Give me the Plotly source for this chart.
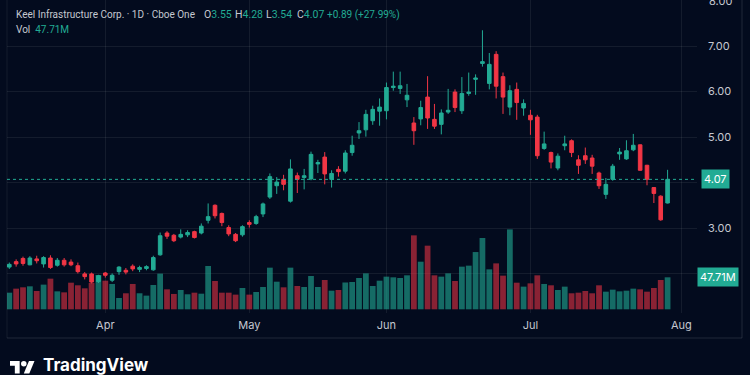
import plotly.graph_objects as go

# ---------------- data ----------------
opens = [2.14, 2.26, 2.33, 2.19, 2.32, 2.21, 2.34, 2.18, 2.29, 2.25,
         2.17, 1.99, 1.99, 1.82, 2.01, 1.85, 2.04, 2.07, 2.16, 2.09,
         2.11, 2.08, 2.41, 2.89, 2.84, 2.80, 2.85, 2.92, 2.89, 3.17,
         3.50, 3.32, 3.01, 2.86, 2.85, 3.12, 3.10, 3.31, 3.68, 3.93,
         4.07, 3.59, 4.15, 4.11, 4.08, 4.41, 4.56, 4.07, 4.29, 4.25,
         4.66, 5.09, 5.16, 5.36, 5.57, 5.58, 6.09, 6.07, 5.82, 5.31,
         5.40, 5.88, 5.39, 5.28, 5.55, 5.99, 5.58, 5.96, 6.27, 6.62,
         6.18, 6.82, 6.33, 5.66, 6.05, 5.64, 5.48, 5.44, 4.75, 4.66,
         4.32, 4.81, 4.92, 4.50, 4.59, 4.54, 4.21, 3.74, 4.07, 4.63,
         4.52, 4.72, 4.83, 4.38, 3.89, 3.70, 3.55]
highs = [2.24, 2.31, 2.37, 2.38, 2.39, 2.38, 2.40, 2.34, 2.34, 2.31,
         2.24, 2.03, 2.02, 1.97, 2.03, 2.00, 2.16, 2.12, 2.20, 2.17,
         2.18, 2.39, 2.90, 2.93, 2.87, 2.97, 2.95, 2.94, 3.10, 3.54,
         3.52, 3.34, 3.06, 2.89, 3.06, 3.17, 3.29, 3.56, 4.20, 4.12,
         4.17, 4.51, 4.22, 4.30, 4.68, 4.50, 4.67, 4.27, 4.36, 4.71,
         5.03, 5.33, 5.60, 5.69, 5.85, 6.20, 6.44, 6.44, 6.17, 5.44,
         5.80, 6.34, 5.73, 5.61, 6.06, 6.05, 6.32, 6.42, 6.38, 7.35,
         6.85, 6.89, 6.42, 6.14, 6.20, 5.83, 5.60, 5.49, 5.12, 4.68,
         4.64, 5.03, 4.95, 4.60, 4.77, 4.61, 4.24, 4.10, 4.41, 4.76,
         4.93, 5.07, 4.84, 4.39, 3.90, 3.72, 4.28]
lows = [2.10, 2.15, 2.17, 2.18, 2.22, 2.13, 2.10, 2.15, 2.15, 2.16,
        2.00, 1.87, 1.78, 1.79, 1.91, 1.81, 1.97, 1.98, 2.05, 2.03,
        2.07, 2.06, 2.39, 2.76, 2.69, 2.77, 2.80, 2.77, 2.86, 3.10,
        3.21, 3.04, 2.82, 2.69, 2.81, 3.01, 3.07, 3.24, 3.64, 3.75,
        3.83, 3.56, 3.77, 3.85, 4.05, 4.21, 3.96, 3.89, 4.13, 4.20,
        4.59, 4.96, 5.01, 5.27, 5.25, 5.39, 6.02, 5.95, 5.66, 4.83,
        5.26, 5.18, 5.18, 5.06, 5.51, 5.55, 5.51, 5.91, 5.93, 6.55,
        6.05, 5.85, 5.51, 5.48, 5.38, 5.47, 5.05, 4.52, 4.72, 4.31,
        4.27, 4.71, 4.56, 4.19, 4.41, 4.19, 3.86, 3.64, 4.04, 4.50,
        4.50, 4.69, 4.26, 3.94, 3.55, 3.16, 3.54]
closes = [2.20, 2.21, 2.22, 2.34, 2.28, 2.35, 2.13, 2.29, 2.19, 2.19,
          2.04, 1.93, 1.81, 1.95, 1.96, 1.96, 2.14, 2.03, 2.10, 2.13,
          2.15, 2.35, 2.83, 2.82, 2.72, 2.86, 2.90, 2.79, 3.04, 3.25,
          3.27, 3.12, 2.87, 2.72, 3.03, 3.08, 3.25, 3.53, 4.13, 4.01,
          3.96, 4.30, 4.07, 4.15, 4.62, 4.44, 4.19, 4.20, 4.24, 4.65,
          4.82, 5.14, 5.50, 5.61, 5.66, 6.09, 6.12, 6.13, 5.92, 5.14,
          5.65, 5.42, 5.24, 5.53, 5.59, 5.65, 5.96, 5.99, 6.30, 6.66,
          6.60, 6.12, 5.88, 6.02, 5.76, 5.74, 5.38, 4.59, 4.85, 4.45,
          4.58, 4.85, 4.66, 4.38, 4.50, 4.36, 3.93, 3.96, 4.36, 4.67,
          4.70, 4.82, 4.27, 4.07, 3.76, 3.18, 4.07]
volumes_m = [24.8, 30.8, 32.8, 34.3, 27.3, 36.8, 45.7, 26.8, 25.3, 39.7,
             35.8, 31.3, 39.2, 51.2, 42.7, 37.8, 16.9, 23.9, 37.8, 23.9,
             20.4, 36.3, 53.2, 29.8, 22.9, 28.8, 22.4, 24.8, 23.3, 64.6,
             42.2, 24.8, 24.8, 21.9, 31.8, 21.9, 25.8, 33.3, 62.1, 41.2,
             32.8, 62.1, 34.8, 33.3, 49.7, 33.3, 43.7, 27.8, 28.8, 40.0,
             40.7, 46.7, 53.6, 34.8, 42.7, 48.7, 47.7, 46.7, 50.7, 110.3,
             71.0, 94.9, 50.7, 48.7, 53.6, 42.2, 63.6, 65.1, 85.4, 106.3,
             59.6, 68.5, 50.2, 119.2, 39.7, 33.8, 38.7, 50.7, 37.8, 35.8,
             28.8, 33.8, 23.9, 24.8, 27.3, 23.9, 35.8, 26.3, 29.3, 26.8,
             27.8, 30.8, 29.8, 26.3, 31.8, 43.7, 47.71]
bar_index = list(range(len(closes)))

month_ticks = [14, 35, 55, 76, 98]
month_labels = ["Apr", "May", "Jun", "Jul", "Aug"]
price_ticks = [2, 3, 4, 5, 6, 7]
price_labels = ["", "3.00", "", "5.00", "6.00", "7.00"]
top_label = "8.00"

title_text = "Keel Infrastructure Corp. · 1D · Cboe One"
last_price = 4.07
last_volume = 47.71

# ---------------- style ----------------
BG = "#030b1e"
UP = "#22ab94"
DOWN = "#f23645"
VOL_UP = "rgba(34,171,148,0.60)"
VOL_DOWN = "rgba(242,54,69,0.56)"
GRID = "rgba(255,255,255,0.07)"
TXT = "#c5c8d0"
FONT = "Inter, Roboto, 'Noto Sans', sans-serif"
HFONT = "Roboto, 'Noto Sans', sans-serif"

W, H = 750, 375
ML, MR, MT, MB = 7, 53, 0, 62
PW, PH = W - ML - MR, H - MT - MB


def paper(xp, yp):
    return (xp - ML) / PW, (H - MB - yp) / PH


vol_colors = [VOL_UP if c >= o else VOL_DOWN for o, c in zip(opens, closes)]

fig = go.Figure()
fig.add_trace(go.Bar(
    x=bar_index, y=volumes_m, marker=dict(color=vol_colors, line=dict(width=0)),
    width=0.84, yaxis="y", xaxis="x", hoverinfo="skip"))
fig.add_trace(go.Candlestick(
    x=bar_index, open=opens, high=highs, low=lows, close=closes,
    increasing=dict(line=dict(color=UP, width=1), fillcolor=UP),
    decreasing=dict(line=dict(color=DOWN, width=1), fillcolor=DOWN),
    whiskerwidth=0, yaxis="y2", xaxis="x"))

shapes = []
shapes.append(dict(type="line", xref="paper", yref="y2", x0=0, x1=1,
                   y0=last_price, y1=last_price,
                   line=dict(color=UP, width=1, dash="dot")))
bx0, by0 = paper(7, 338)
bx1, by1 = paper(742, 0)
BORDER = "rgba(255,255,255,0.12)"
shapes.append(dict(type="line", xref="paper", yref="paper", x0=bx0, x1=bx1,
                   y0=by0, y1=by0, line=dict(color=BORDER, width=1)))
shapes.append(dict(type="line", xref="paper", yref="paper", x0=bx1, x1=bx1,
                   y0=by0, y1=by1, line=dict(color=BORDER, width=1)))
shapes.append(dict(type="line", xref="paper", yref="paper", x0=bx0, x1=bx0,
                   y0=by0, y1=by1, line=dict(color="rgba(255,255,255,0.07)", width=1)))


def logo_pt(vx, vy):
    return paper(10 + vx * 0.69, 361 + (vy - 4) * 0.69)


def path_from(pts):
    s = ""
    for i, (vx, vy) in enumerate(pts):
        px_, py_ = logo_pt(vx, vy)
        s += ("M" if i == 0 else "L") + f"{px_},{py_} "
    return s + "Z"


shapes.append(dict(type="path", xref="paper", yref="paper",
                   path=path_from([(0, 4), (14, 4), (14, 22), (7, 22), (7, 11), (0, 11)]),
                   fillcolor="white", line=dict(width=0)))
shapes.append(dict(type="path", xref="paper", yref="paper",
                   path=path_from([(27.5, 4), (35.5, 4), (28, 22), (20, 22)]),
                   fillcolor="white", line=dict(width=0)))
cx0, cy0 = logo_pt(16, 4)
cx1, cy1 = logo_pt(24, 12)
shapes.append(dict(type="circle", xref="paper", yref="paper",
                   x0=cx0, x1=cx1, y0=cy1, y1=cy0, fillcolor="white", line=dict(width=0)))

G = f"<span style='color:{UP}'>"
E = "</span>"
nb = "\u00a0"
change = closes[-1] - closes[-2]
pct = (closes[-1] / closes[-2] - 1) * 100
header_items = [
    (14, title_text, 10),
    (202, f"O{G}{opens[-1]:.2f}{E}", 10.5),
    (233, f"H{G}{highs[-1]:.2f}{E}", 10.5),
    (264, f"L{G}{lows[-1]:.2f}{E}", 10.5),
    (295, f"C{G}{closes[-1]:.2f}{E}", 10.5),
    (325, f"{G}+{change:.2f} (+{pct:.2f}%){E}", 10),
]

annotations = []
for xp, txt, fs in header_items:
    ax, ay = paper(xp, 15)
    annotations.append(dict(xref="paper", yref="paper", x=ax, y=ay, xanchor="left",
                            yanchor="middle", text=txt, showarrow=False,
                            font=dict(size=fs, color=TXT, family=HFONT)))
vx_, vy_ = paper(14, 29.5)
annotations.append(dict(xref="paper", yref="paper", x=vx_, y=vy_, xanchor="left",
                        yanchor="middle", text=f"Vol{nb}{nb}{G}{last_volume:.2f}M{E}",
                        showarrow=False, font=dict(size=10, color=TXT, family=HFONT)))
annotations.append(dict(xref="paper", yref="y2", x=1, y=last_price, xanchor="left",
                        yanchor="middle", xshift=4, text=f"{last_price:.2f}",
                        showarrow=False, bgcolor=UP, borderpad=2,
                        font=dict(size=11, color="white", family=FONT)))
annotations.append(dict(xref="paper", yref="y", x=1, y=last_volume, xanchor="left",
                        yanchor="middle", xshift=0, text=f"{last_volume:.2f}M",
                        showarrow=False, bgcolor=UP, borderpad=2,
                        font=dict(size=11, color="white", family=FONT)))
# top price label, partly cut by the window edge as in the reference
annotations.append(dict(xref="paper", yref="y2", x=1, y=8, xanchor="left",
                        yanchor="middle", xshift=10, text=top_label, showarrow=False,
                        font=dict(size=11, color=TXT, family=FONT)))
tx, ty = paper(41, 365)
annotations.append(dict(xref="paper", yref="paper", x=tx, y=ty, xanchor="left",
                        yanchor="middle", text="<b>TradingView</b>", showarrow=False,
                        font=dict(size=17, color="white", family=FONT)))

vol_lo, vol_hi = -5.5, 461.2
price_lo, price_hi = 1.130, 8.016

fig.update_layout(
    width=W, height=H, margin=dict(l=ML, r=MR, t=MT, b=MB, autoexpand=False),
    paper_bgcolor=BG, plot_bgcolor=BG, showlegend=False,
    font=dict(family=FONT, color=TXT, size=11),
    boxgap=0.25,
    xaxis=dict(range=[-0.335, 100.29], tickvals=month_ticks, ticktext=month_labels,
               showgrid=True, gridcolor=GRID, gridwidth=1, zeroline=False,
               showline=False, ticks="", tickfont=dict(size=11, color=TXT),
               rangeslider=dict(visible=False), fixedrange=True, ticklabelstandoff=4,
               automargin=False),
    yaxis=dict(range=[vol_lo, vol_hi], visible=False, showgrid=False, fixedrange=True,
               automargin=False),
    yaxis2=dict(range=[price_lo, price_hi], overlaying="y", side="right",
                tickvals=price_ticks + [8], ticktext=price_labels + [""], showgrid=True,
                gridcolor=GRID, gridwidth=1, zeroline=False, showline=False, ticks="",
                tickfont=dict(size=11, color=TXT), ticklabelstandoff=10,
                fixedrange=True, automargin=False),
    shapes=shapes, annotations=annotations,
)

fig.write_html("out.html")
